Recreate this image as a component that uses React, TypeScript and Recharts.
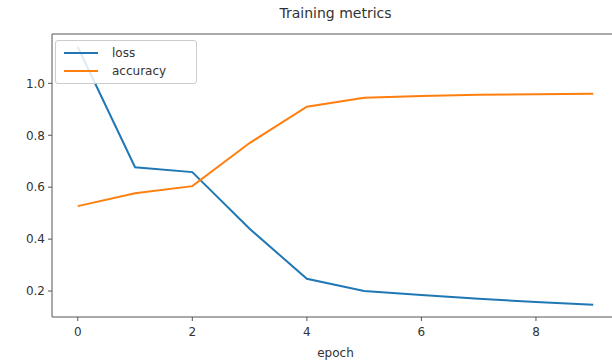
import React from "react";
import { LineChart, Line, XAxis, YAxis } from "recharts";

const epochs = [0, 1, 2, 3, 4, 5, 6, 7, 8, 9];
const loss = [1.14, 0.677, 0.658, 0.44, 0.247, 0.2, 0.185, 0.17, 0.158, 0.147];
const accuracy = [0.527, 0.577, 0.604, 0.77, 0.91, 0.944, 0.951, 0.956, 0.958, 0.96];
const xTicks = [0, 2, 4, 6, 8];
const yTicks = [0.2, 0.4, 0.6, 0.8, 1.0];

const data = epochs.map((e, i) => ({ epoch: e, loss: loss[i], accuracy: accuracy[i] }));

const BLUE = "#1f77b4";
const ORANGE = "#ff7f0e";
const FONT = "'DejaVu Sans', sans-serif";

const LegendBox = () => (
    <div
        style={{
            position: "absolute",
            left: 55,
            top: 40,
            border: "1px solid #ccc",
            borderRadius: 3,
            background: "rgba(255,255,255,0.85)",
            padding: "3px 8px",
            width: 124,
            fontFamily: FONT,
            fontSize: 12,
            color: "#333",
        }}
    >
        {[
            { name: "loss", color: BLUE },
            { name: "accuracy", color: ORANGE },
        ].map((it) => (
            <div key={it.name} style={{ display: "flex", alignItems: "center", height: 18 }}>
                <span style={{ width: 34, height: 2, background: it.color, marginRight: 14 }} />
                <span>{it.name}</span>
            </div>
        ))}
    </div>
);

const App = () => {
    return (
        <div style={{ position: "absolute", left: 0, top: 0, width: 612, height: 360, overflow: "hidden", background: "#fff" }}>
            <div
                style={{
                    position: "absolute",
                    top: 5,
                    left: 0,
                    width: 671,
                    textAlign: "center",
                    fontFamily: FONT,
                    fontSize: 14,
                    color: "#333",
                }}
            >
                Training metrics
            </div>
            <LineChart width={640} height={360} data={data} margin={{ top: 33, right: 21, left: 0, bottom: 0 }}>
                <XAxis
                    xAxisId="top"
                    orientation="top"
                    height={1}
                    tick={false}
                    tickLine={false}
                    stroke="#555"
                    type="number"
                    dataKey="epoch"
                    domain={[-0.45, 9.45]}
                />
                <XAxis
                    type="number"
                    dataKey="epoch"
                    domain={[-0.45, 9.45]}
                    ticks={xTicks}
                    height={43}
                    tickSize={4}
                    tickMargin={6}
                    stroke="#555"
                    tick={{ fill: "#333", fontSize: 12, fontFamily: FONT }}
                    label={{ value: "epoch", position: "insideBottom", offset: 3, fill: "#333", fontSize: 12, fontFamily: FONT }}
                />
                <YAxis
                    type="number"
                    domain={[0.1, 1.19]}
                    ticks={yTicks}
                    width={52}
                    tickSize={4}
                    tickMargin={3}
                    stroke="#555"
                    allowDataOverflow
                    tickFormatter={(v: number) => v.toFixed(1)}
                    tick={{ fill: "#333", fontSize: 12, fontFamily: FONT }}
                />
                <Line dataKey="loss" type="linear" stroke={BLUE} strokeWidth={2} dot={false} isAnimationActive={false} />
                <Line dataKey="accuracy" type="linear" stroke={ORANGE} strokeWidth={2} dot={false} isAnimationActive={false} />
            </LineChart>
            <LegendBox />
        </div>
    );
};

export default App;
